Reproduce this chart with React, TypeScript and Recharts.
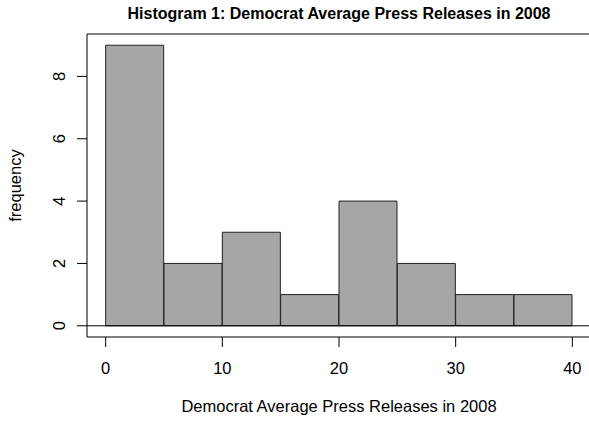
import { BarChart, Bar, XAxis, YAxis, ReferenceLine, ReferenceArea, Label } from "recharts"

const binStarts = [0, 5, 10, 15, 20, 25, 30, 35]
const binWidth = 5
const counts = [9, 2, 3, 1, 4, 2, 1, 1]
const xTicks = [0, 10, 20, 30, 40]
const yTicks = [0, 2, 4, 6, 8]
const xDomain = [-1.6, 41.6]
const yDomain = [-0.36, 9.36]

const data = binStarts.map((start, i) => ({ mid: start + binWidth / 2, count: counts[i] }))

const font = "'Liberation Sans', Arial, Helvetica, sans-serif"
const textSize = 16.5

const YTick = ({ x, y, payload }: any) => (
  <text
    x={x}
    y={y}
    transform={`rotate(-90, ${x}, ${y})`}
    textAnchor="middle"
    fontSize={textSize}
    fontFamily={font}
    fill="#000"
  >
    {payload.value}
  </text>
)

export default function App() {
  return (
    <div style={{ position: "relative", width: 589, height: 423, overflow: "hidden", background: "#fff" }}>
      <style>{`body{margin:0}`}</style>
      <BarChart
        width={600}
        height={423}
        data={data}
        margin={{ top: 34, right: 9, left: 0, bottom: 0 }}
        barCategoryGap={0}
        barGap={0}
      >
        <XAxis
          dataKey="mid"
          type="number"
          domain={xDomain}
          ticks={xTicks}
          allowDataOverflow
          axisLine={false}
          tickLine={{ stroke: "#000" }}
          tickSize={10}
          tickMargin={15}
          height={86}
          tick={{ fontSize: textSize, fontFamily: font, fill: "#000" }}
        >
          <Label
            content={({ viewBox }: any) => (
              <g>
                <text
                  x={viewBox.x + viewBox.width / 2}
                  y={viewBox.y + 75}
                  textAnchor="middle"
                  fontSize={textSize}
                  fontFamily={font}
                  fill="#000"
                >
                  Democrat Average Press Releases in 2008
                </text>
                <text
                  x={viewBox.x + viewBox.width / 2}
                  y={19}
                  textAnchor="middle"
                  fontSize={16}
                  fontWeight="bold"
                  fontFamily={font}
                  fill="#000"
                >
                  Histogram 1: Democrat Average Press Releases in 2008
                </text>
              </g>
            )}
          />
        </XAxis>
        <YAxis
          type="number"
          domain={yDomain}
          ticks={yTicks}
          allowDataOverflow
          axisLine={false}
          tickLine={{ stroke: "#000" }}
          tickSize={10}
          tickMargin={12}
          width={87}
          tick={<YTick />}
        >
          <Label
            content={({ viewBox }: any) => {
              const cx = 21
              const cy = viewBox.y + viewBox.height / 2
              return (
                <text
                  x={cx}
                  y={cy}
                  transform={`rotate(-90, ${cx}, ${cy})`}
                  textAnchor="middle"
                  fontSize={textSize}
                  fontFamily={font}
                  fill="#000"
                >
                  frequency
                </text>
              )
            }}
          />
        </YAxis>
        <Bar dataKey="count" fill="#a6a6a6" stroke="#222" strokeWidth={1} isAnimationActive={false} />
        <ReferenceLine y={0} stroke="#000" strokeWidth={1} ifOverflow="visible" />
        <ReferenceArea
          x1={xDomain[0]}
          x2={xDomain[1]}
          y1={yDomain[0]}
          y2={yDomain[1]}
          fill="none"
          stroke="#000"
          strokeWidth={1}
          ifOverflow="visible"
        />
      </BarChart>
    </div>
  )
}
